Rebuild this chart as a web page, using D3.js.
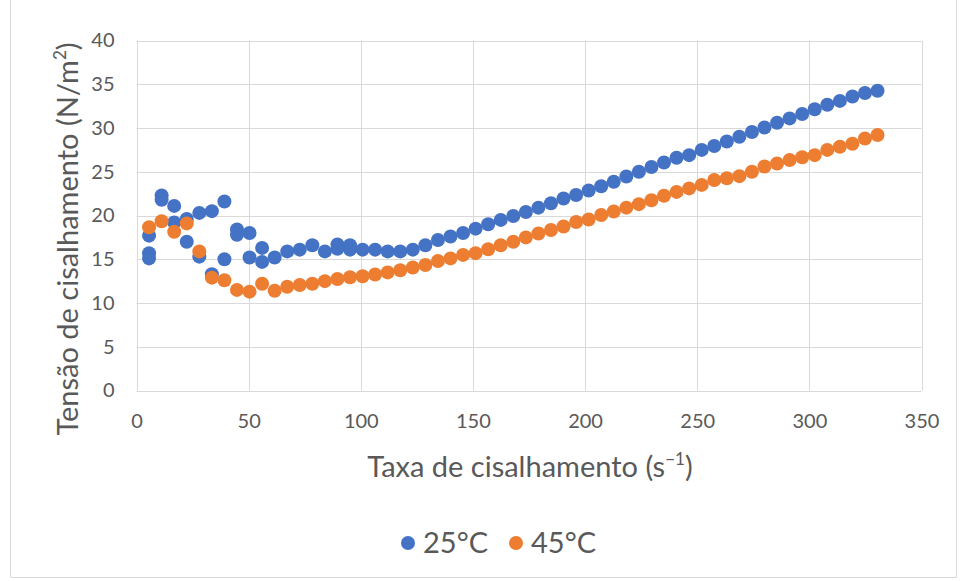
<!DOCTYPE html>
<html>
<head>
<meta charset="utf-8">
<script src="https://cdn.jsdelivr.net/npm/d3@7"></script>
<style>
  html, body { margin: 0; padding: 0; background: #ffffff; }
  svg { display: block; }
  text { font-family: Lato, "Open Sans", "Liberation Sans", sans-serif; fill: #595959; }
</style>
</head>
<body>
<svg id="chart" width="963" height="581"></svg>
<script>
// Shear rate (s^-1) for the 45 °C run
const rate45 = [5.6, 11.2, 16.8, 22.4, 28.0, 33.6, 39.2, 44.8, 50.4, 56.0,
  61.6, 67.2, 72.8, 78.4, 84.0, 89.6, 95.2, 100.8, 106.4, 112.0,
  117.6, 123.2, 128.8, 134.4, 140.0, 145.6, 151.2, 156.8, 162.4, 168.0,
  173.6, 179.2, 184.8, 190.4, 196.0, 201.6, 207.2, 212.8, 218.4, 224.0,
  229.6, 235.2, 240.8, 246.4, 252.0, 257.6, 263.2, 268.8, 274.4, 280.0,
  285.6, 291.2, 296.8, 302.4, 308.0, 313.6, 319.2, 324.8, 330.4];
// Shear stress (N/m²) at 45 °C
const stress45 = [18.65, 19.35, 18.15, 19.1, 15.9, 12.9, 12.6, 11.5, 11.3, 12.2,
  11.4, 11.85, 12.05, 12.2, 12.5, 12.75, 12.95, 13.05, 13.25, 13.5,
  13.75, 14.05, 14.35, 14.8, 15.1, 15.5, 15.7, 16.15, 16.6, 17.0,
  17.5, 17.95, 18.35, 18.75, 19.25, 19.55, 20.05, 20.45, 20.9, 21.3,
  21.75, 22.25, 22.7, 23.1, 23.5, 24.05, 24.25, 24.5, 25.0, 25.6,
  25.95, 26.35, 26.65, 26.9, 27.5, 27.85, 28.2, 28.8, 29.2];

// Shear rate (s^-1) for the 25 °C run (repeated readings at low rates)
const rate25 = [5.6, 5.6, 5.6, 11.2, 11.2, 16.8, 16.8, 22.4, 22.4, 28.0, 28.0,
  33.6, 33.6, 39.2, 39.2, 44.8, 44.8, 50.4, 50.4, 56.0, 56.0,
  61.6, 67.2, 72.8, 78.4, 84.0, 89.6, 89.6, 95.2, 95.2, 100.8, 106.4, 112.0,
  117.6, 123.2, 128.8, 134.4, 140.0, 145.6, 151.2, 156.8, 162.4, 168.0,
  173.6, 179.2, 184.8, 190.4, 196.0, 201.6, 207.2, 212.8, 218.4, 224.0,
  229.6, 235.2, 240.8, 246.4, 252.0, 257.6, 263.2, 268.8, 274.4, 280.0,
  285.6, 291.2, 296.8, 302.4, 308.0, 313.6, 319.2, 324.8, 330.4];
// Shear stress (N/m²) at 25 °C
const stress25 = [17.7, 15.7, 15.1, 22.3, 21.8, 21.1, 19.2, 19.6, 17.0, 20.3, 15.3,
  20.5, 13.3, 21.6, 15.0, 18.4, 17.8, 18.0, 15.2, 16.3, 14.7,
  15.2, 15.9, 16.1, 16.6, 15.9, 16.7, 16.2, 16.6, 16.1, 16.1, 16.1, 15.9,
  15.9, 16.1, 16.6, 17.2, 17.6, 18.0, 18.5, 19.0, 19.5, 19.95,
  20.4, 20.9, 21.4, 21.95, 22.35, 22.85, 23.35, 23.85, 24.45, 25.0,
  25.55, 26.05, 26.6, 26.9, 27.5, 27.95, 28.45, 29.0, 29.55, 30.05,
  30.6, 31.1, 31.6, 32.15, 32.65, 33.1, 33.6, 34.0, 34.25];

const xTicks = [0, 50, 100, 150, 200, 250, 300, 350];
const yTicks = [0, 5, 10, 15, 20, 25, 30, 35, 40];
const seriesNames = ["25°C", "45°C"];
const seriesColors = ["#4472c4", "#ed7d31"];

const svg = d3.select("#chart");
const plot = { left: 136.5, right: 921.5, top: 40.5, bottom: 390.5 };

// outer chart frame
const frame = svg.append("g").attr("stroke", "#d9d9d9").attr("fill", "none");
frame.append("line").attr("x1", 10.5).attr("x2", 10.5).attr("y1", 0).attr("y2", 577.5);
frame.append("line").attr("x1", 956.5).attr("x2", 956.5).attr("y1", 0).attr("y2", 577.5);
frame.append("line").attr("x1", 10.5).attr("x2", 956.5).attr("y1", 577.5).attr("y2", 577.5);

const x = d3.scaleLinear().domain([0, 350]).range([plot.left, plot.right]);
const y = d3.scaleLinear().domain([0, 40]).range([plot.bottom, plot.top]);

// gridlines
const grid = svg.append("g").attr("stroke", "#d9d9d9").attr("stroke-width", 1);
grid.selectAll("line.h").data(yTicks).join("line")
  .attr("x1", plot.left).attr("x2", plot.right)
  .attr("y1", d => Math.round(y(d)) + 0.5).attr("y2", d => Math.round(y(d)) + 0.5);
grid.selectAll("line.v").data(xTicks).join("line")
  .attr("y1", plot.top).attr("y2", plot.bottom)
  .attr("x1", d => Math.round(x(d)) + 0.5).attr("x2", d => Math.round(x(d)) + 0.5);

// axes (labels only)
const xAxis = svg.append("g").attr("transform", `translate(0,${plot.bottom})`)
  .call(d3.axisBottom(x).tickValues(xTicks).tickSize(0).tickPadding(23));
const yAxis = svg.append("g").attr("transform", `translate(${plot.left},0)`)
  .call(d3.axisLeft(y).tickValues(yTicks).tickSize(0).tickPadding(22));
[xAxis, yAxis].forEach(a => {
  a.select(".domain").remove();
  a.selectAll("text").attr("font-family", "Lato, 'Open Sans', sans-serif")
    .attr("font-size", 20).attr("fill", "#595959");
});

// series markers
const pts25 = rate25.map((r, i) => [r, stress25[i]]);
const pts45 = rate45.map((r, i) => [r, stress45[i]]);
[pts25, pts45].forEach((pts, s) => {
  svg.append("g").selectAll("circle").data(pts).join("circle")
    .attr("cx", d => x(d[0])).attr("cy", d => y(d[1]))
    .attr("r", 7).attr("fill", seriesColors[s]);
});

// axis titles
const xt = svg.append("text").attr("x", 530).attr("y", 477)
  .attr("text-anchor", "middle").attr("font-size", 29);
xt.append("tspan").text("Taxa de cisalhamento (s");
xt.append("tspan").attr("font-size", 17).attr("dy", -12).text("−1");
xt.append("tspan").attr("dy", 12).text(")");

const yt = svg.append("text").attr("transform", "translate(78,239) rotate(-90)")
  .attr("text-anchor", "middle").attr("font-size", 29);
yt.append("tspan").text("Tensão de cisalhamento (N/m");
yt.append("tspan").attr("font-size", 17).attr("dy", -12).text("2");
yt.append("tspan").attr("dy", 12).text(")");

// legend
const legend = svg.append("g");
const legX = [408, 516];
seriesNames.forEach((name, i) => {
  legend.append("circle").attr("cx", legX[i]).attr("cy", 543).attr("r", 7).attr("fill", seriesColors[i]);
  legend.append("text").attr("x", legX[i] + 15).attr("y", 553).attr("font-size", 29).text(name);
});
</script>
</body>
</html>
